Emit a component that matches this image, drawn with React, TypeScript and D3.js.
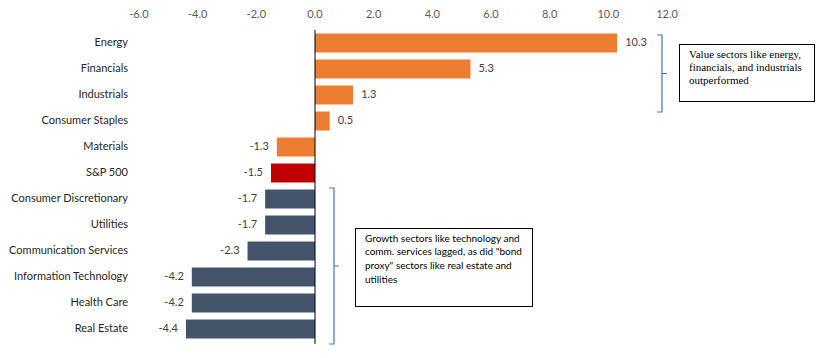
import React from "react";
import * as d3 from "d3";

const categories = [
  "Energy",
  "Financials",
  "Industrials",
  "Consumer Staples",
  "Materials",
  "S&P 500",
  "Consumer Discretionary",
  "Utilities",
  "Communication Services",
  "Information Technology",
  "Health Care",
  "Real Estate",
];
const values = [10.3, 5.3, 1.3, 0.5, -1.3, -1.5, -1.7, -1.7, -2.3, -4.2, -4.2, -4.4];
const groups = ["value", "value", "value", "value", "value", "index", "growth", "growth", "growth", "growth", "growth", "growth"];
const xTicks = [-6, -4, -2, 0, 2, 4, 6, 8, 10, 12];
const note1 = ["Value sectors like energy,", "financials, and industrials", "outperformed"];
const note2 = ["Growth sectors like technology and", "comm. services lagged, as did \"bond", "proxy\" sectors like real estate and", "utilities"];

const colorOf: Record<string, string> = {
  value: "#ED7D31",
  index: "#C00000",
  growth: "#44546A",
};

const W = 816;
const H = 358;
const FONT = "Lato, 'Open Sans', sans-serif";

export default function App() {
  const x = d3.scaleLinear().domain([-6, 12]).range([139, 667]);
  const y = d3
    .scaleBand<string>()
    .domain(categories)
    .range([30, 342])
    .paddingInner(0.27)
    .paddingOuter(0.135);
  const f = d3.format(".1f");
  const fmt = (v: number) => f(v).replace("\u2212", "-");
  const bw = y.bandwidth();

  const brace = (xv: number, y0: number, y1: number) => {
    const ym = (y0 + y1) / 2;
    return `M${xv - 5},${y0} L${xv},${y0} L${xv},${y1} L${xv - 5},${y1} M${xv},${ym} L${xv + 5},${ym}`;
  };

  return (
    <svg width={W} height={H} style={{ position: "absolute", left: 0, top: 0, background: "#fff" }}>
      {xTicks.map((t) => (
        <text key={t} x={x(t)} y={15} textAnchor="middle" dominantBaseline="middle" fontFamily={FONT} fontSize={11} fill="#595959">
          {fmt(t)}
        </text>
      ))}
      {categories.map((c, i) => {
        const v = values[i];
        const y0 = y(c)!;
        return (
          <g key={c}>
            <rect x={Math.min(x(0), x(v))} y={y0} width={Math.abs(x(v) - x(0))} height={bw} fill={colorOf[groups[i]]} />
            <text
              x={v >= 0 ? x(v) + 8 : x(v) - 8}
              y={y0 + bw / 2 + 0.5}
              textAnchor={v >= 0 ? "start" : "end"}
              dominantBaseline="middle"
              fontFamily={FONT}
              fontSize={11}
              fill="#404040"
            >
              {fmt(v)}
            </text>
            <text x={128} y={y0 + bw / 2 + 0.5} textAnchor="end" dominantBaseline="middle" fontFamily={FONT} fontSize={11} fill="#262626">
              {c}
            </text>
          </g>
        );
      })}
      <line x1={x(0)} x2={x(0)} y1={30} y2={344} stroke="#000" strokeWidth={1} />

      <path d={brace(662, 35, 112)} fill="none" stroke="#4472C4" strokeWidth={1.2} />
      <rect x={679.5} y={44.5} width={135} height={57} fill="#fff" stroke="#000" strokeWidth={1} />
      {note1.map((l, i) => (
        <text key={i} x={689} y={55 + i * 13} dominantBaseline="middle" fontFamily="'Liberation Serif', 'DejaVu Serif', serif" fontSize={11} fill="#000">
          {l}
        </text>
      ))}

      <path d={brace(334, 188, 344)} fill="none" stroke="#4472C4" strokeWidth={1.2} />
      <rect x={355.5} y={228.5} width={177} height={78} fill="#fff" stroke="#000" strokeWidth={1} />
      {note2.map((l, i) => (
        <text key={i} x={365} y={239 + i * 13.7} dominantBaseline="middle" fontFamily={FONT} fontSize={10} fill="#000">
          {l}
        </text>
      ))}
    </svg>
  );
}
